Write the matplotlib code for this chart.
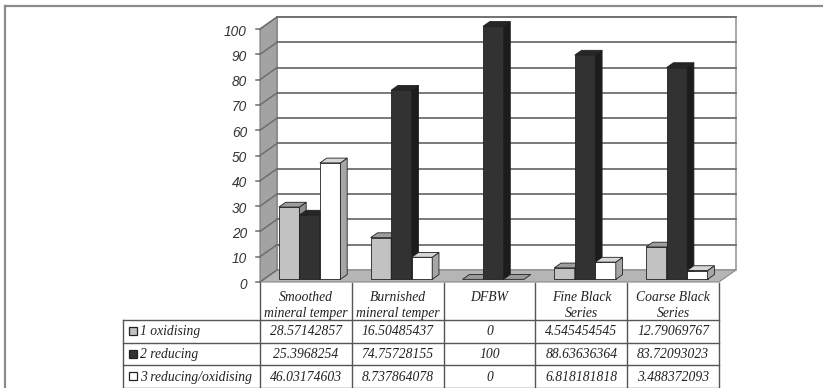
import matplotlib
matplotlib.use("Agg")
import matplotlib.pyplot as plt
from matplotlib.patches import Polygon, Rectangle
from matplotlib.lines import Line2D

# ---- data ----
categories = ["Smoothed\nmineral temper", "Burnished\nmineral temper", "DFBW",
              "Fine Black\nSeries", "Coarse Black\nSeries"]
series_names = ["1 oxidising", "2 reducing", "3 reducing/oxidising"]
oxidising = [28.57142857, 16.50485437, 0, 4.545454545, 12.79069767]
reducing = [25.3968254, 74.75728155, 100, 88.63636364, 83.72093023]
reducing_oxidising = [46.03174603, 8.737864078, 0, 6.818181818, 3.488372093]
y_ticks = [0, 10, 20, 30, 40, 50, 60, 70, 80, 90, 100]

series_values = [oxidising, reducing, reducing_oxidising]
# (front, side, top) shades for each series
series_colors = [("#c2c2c2", "#8f8f8f", "#9d9d9d"),
                 ("#323232", "#1c1c1c", "#262626"),
                 ("#ffffff", "#a6a6a6", "#d6d6d6")]

W, H = 823, 388
fig = plt.figure(figsize=(W / 100, H / 100), dpi=100)
fig.patch.set_facecolor("white")

# outer frame
fig.add_artist(Line2D([5 / W, 822 / W], [1 - 6 / H, 1 - 6 / H], color="#8a8a8a", lw=1.6))
fig.add_artist(Line2D([5 / W, 5 / W], [1 - 6 / H, 0], color="#8a8a8a", lw=1.6))

# ---- chart area (front plane in data coordinates) ----
ax_left, ax_right, ax_top, ax_bot = 260, 719, 29, 282
ax = fig.add_axes([ax_left / W, 1 - ax_bot / H, (ax_right - ax_left) / W, (ax_bot - ax_top) / H])
ax.set_xlim(0, len(categories))
ax.set_ylim(0, 100)
ax.axis("off")

px_x = (ax_right - ax_left) / len(categories)   # pixels per category
px_y = (ax_bot - ax_top) / 100.0                # pixels per value unit
DX = 17 / px_x   # depth offset (x) of the back wall
DY = 12 / px_y   # depth offset (y) of the back wall
n = len(categories)

grid_c = "#6e6e6e"
edge_c = "#202020"

# back wall
ax.add_patch(Polygon([(DX, DY), (n + DX, DY), (n + DX, 100 + DY), (DX, 100 + DY)],
                     closed=True, facecolor="white", edgecolor="#9a9a9a", lw=1.2,
                     clip_on=False, zorder=1))
# side wall
ax.add_patch(Polygon([(0, 0), (DX, DY), (DX, 100 + DY), (0, 100)],
                     closed=True, facecolor="#a3a3a3", edgecolor="#7a7a7a", lw=0.8,
                     clip_on=False, zorder=1))
# floor
ax.add_patch(Polygon([(0, 0), (n, 0), (n + DX, DY), (DX, DY)],
                     closed=True, facecolor="#b5b5b5", edgecolor="#8a8a8a", lw=0.8,
                     clip_on=False, zorder=1))

# gridlines on back and side walls, tick marks and labels
for v in y_ticks:
    if v > 0:
        ax.plot([DX, n + DX], [v + DY, v + DY], color=grid_c, lw=1.3, clip_on=False, zorder=2)
    ax.plot([0, DX], [v, v + DY], color=grid_c, lw=1.1, clip_on=False, zorder=2)
    ax.plot([-4 / px_x, 0], [v, v], color=grid_c, lw=1.1, clip_on=False, zorder=2)
    ax.text(-13 / px_x, v - 1.0, str(v), ha="right", va="center", fontsize=9.8,
            family="Liberation Sans", style="italic", color="#333333", clip_on=False)

# bars
bar_w = 20.5 / px_x
f0, f1 = 0.22, 0.62   # front and back depth fraction of the bars
z = 3
for i in range(n):
    for s, vals in enumerate(series_values):
        v = vals[i]
        face, side, top = series_colors[s]
        x0 = i + 0.5 + (s - 1) * bar_w - bar_w / 2 + f0 * DX
        y0 = f0 * DY
        ddx, ddy = (f1 - f0) * DX, (f1 - f0) * DY
        yt = y0 + v
        if v > 0:
            ax.add_patch(Rectangle((x0, y0), bar_w, v, facecolor=face, edgecolor=edge_c,
                                   lw=0.6, clip_on=False, zorder=z))
            ax.add_patch(Polygon([(x0 + bar_w, y0), (x0 + bar_w + ddx, y0 + ddy),
                                  (x0 + bar_w + ddx, yt + ddy), (x0 + bar_w, yt)],
                                 closed=True, facecolor=side, edgecolor=edge_c, lw=0.6,
                                 clip_on=False, zorder=z))
        ax.add_patch(Polygon([(x0, yt), (x0 + bar_w, yt), (x0 + bar_w + ddx, yt + ddy),
                              (x0 + ddx, yt + ddy)],
                             closed=True, facecolor=top if v > 0 else "#9a9a9a",
                             edgecolor=edge_c, lw=0.6, clip_on=False, zorder=z))
        z += 1

# ---- data table ----
tbl_left, tbl_top, tbl_bot = 123, 283, 388
tab = fig.add_axes([tbl_left / W, 0, (ax_right - tbl_left) / W, (tbl_bot - tbl_top) / H])
hdr_h, row_h = 37.0, 22.67
x_min = -(ax_left - tbl_left) / px_x
tab.set_xlim(x_min, n)
tab.set_ylim(tbl_bot - tbl_top, 0)
tab.axis("off")

line_c = "#555555"
row_y = [hdr_h + k * row_h for k in range(4)]
for k, y in enumerate(row_y):
    tab.plot([x_min, n], [y, y], color=line_c, lw=1.0, clip_on=False)
for j in range(n + 1):
    tab.plot([j, j], [0, row_y[-1]], color=line_c, lw=1.0, clip_on=False)
tab.plot([x_min, x_min], [hdr_h, row_y[-1]], color=line_c, lw=1.0, clip_on=False)

tfont = dict(family="Liberation Serif", style="italic", fontsize=9.8, color="#222222")
for j, cat in enumerate(categories):
    tab.text(j + 0.5, 8, cat, ha="center", va="top", linespacing=1.32, **tfont)

for k, name in enumerate(series_names):
    yc = hdr_h + (k + 0.5) * row_h
    tab.add_patch(Rectangle((x_min + 5.5 / px_x, yc - 4.5), 8 / px_x, 8,
                            facecolor=series_colors[k][0], edgecolor="#222222", lw=0.9,
                            clip_on=False))
    tab.text(x_min + 17 / px_x, yc + 0.5, name, ha="left", va="center", **tfont)
    for j in range(n):
        tab.text(j + 0.5, yc + 0.5, "%.10g" % series_values[k][j], ha="center",
                 va="center", **tfont)

fig.savefig("out.png", dpi=100, facecolor="white")
